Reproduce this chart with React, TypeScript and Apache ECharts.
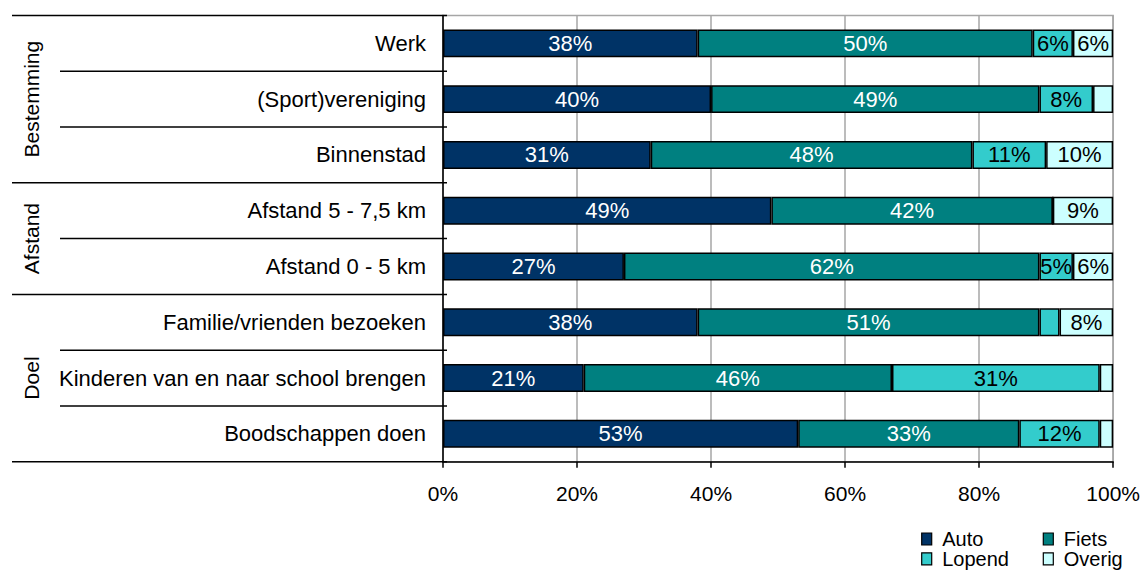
import React, { useEffect, useRef } from "react";
import * as echarts from "echarts";

const categories = [
  "Werk",
  "(Sport)vereniging",
  "Binnenstad",
  "Afstand 5 - 7,5 km",
  "Afstand 0 - 5 km",
  "Familie/vrienden bezoeken",
  "Kinderen van en naar school brengen",
  "Boodschappen doen",
];
const groupNames = ["Bestemming", "Afstand", "Doel"];
const groupSizes = [3, 2, 3];

const auto = [38, 40, 31, 49, 27, 38, 21, 53];
const fiets = [50, 49, 48, 42, 62, 51, 46, 33];
const lopend = [6, 8, 11, 0, 5, 3, 31, 12];
const overig = [6, 3, 10, 9, 6, 8, 2, 2];

const seriesNames = ["Auto", "Fiets", "Lopend", "Overig"];
const seriesData = [auto, fiets, lopend, overig];
const seriesColors = ["#003366", "#008080", "#33CCCC", "#CCFFFF"];
const labelColors = ["#ffffff", "#ffffff", "#000000", "#000000"];

const W = 1143;
const H = 570;
const GRID_LEFT = 443;
const GRID_RIGHT_X = 1115;
const GRID_TOP = 15.5;
const GRID_BOTTOM_Y = 461.7;
const FONT = "'Liberation Sans', Arial, sans-serif";

export default function App() {
  const ref = useRef<HTMLDivElement>(null);

  useEffect(() => {
    if (!ref.current) return;
    const chart = echarts.init(ref.current, undefined, { renderer: "svg" });

    // decorations derived from the category layout
    const band = (GRID_BOTTOM_Y - GRID_TOP) / categories.length;
    const graphics: any[] = [];
    const groupStarts: number[] = [0];
    let idx = 0;
    groupSizes.forEach((s) => {
      idx += s;
      groupStarts.push(idx);
    });
    for (let i = 0; i <= categories.length; i++) {
      const y = GRID_TOP + i * band;
      const isGroup = groupStarts.includes(i);
      graphics.push({
        type: "line",
        shape: { x1: isGroup ? 12 : 60, y1: y, x2: GRID_LEFT + 4, y2: y },
        style: { stroke: "#000", lineWidth: 1.5 },
        z: 10,
      });
    }
    groupNames.forEach((g, gi) => {
      const yc = GRID_TOP + ((groupStarts[gi] + groupStarts[gi + 1]) / 2) * band;
      graphics.push({
        type: "text",
        x: 31,
        y: yc,
        rotation: Math.PI / 2,
        style: {
          text: g,
          font: `21px ${FONT}`,
          fill: "#000",
          align: "center",
          verticalAlign: "middle",
        },
        z: 10,
      });
    });
    // legend (2 x 2)
    const legendPos = [
      { x: 921.7, y: 539 },
      { x: 1043.3, y: 539 },
      { x: 921.7, y: 558.8 },
      { x: 1043.3, y: 558.8 },
    ];
    seriesNames.forEach((n, i) => {
      const p = legendPos[i];
      graphics.push({
        type: "rect",
        shape: { x: p.x, y: p.y - 6, width: 10, height: 12 },
        style: { fill: seriesColors[i], stroke: "#000", lineWidth: 1.2 },
        z: 10,
      });
      graphics.push({
        type: "text",
        x: p.x + 20.5,
        y: p.y,
        style: {
          text: n,
          font: `20px ${FONT}`,
          lineHeight: 19,
          fill: "#000",
          align: "left",
          verticalAlign: "middle",
        },
        z: 10,
      });
    });

    chart.setOption({
      animation: false,
      grid: {
        left: GRID_LEFT,
        right: W - GRID_RIGHT_X,
        top: GRID_TOP,
        bottom: H - GRID_BOTTOM_Y,
        show: true,
        borderColor: "#a6a6a6",
        borderWidth: 1.5,
        backgroundColor: "transparent",
      },
      xAxis: {
        type: "value",
        min: 0,
        max: 100,
        interval: 20,
        axisLine: { show: true, lineStyle: { color: "#000", width: 1.5 } },
        axisTick: { show: true, length: 6, lineStyle: { color: "#000", width: 1.5 } },
        splitLine: { show: true, lineStyle: { color: "#a6a6a6", width: 1.5 } },
        axisLabel: {
          formatter: "{value}%",
          fontFamily: FONT,
          fontSize: 21,
          color: "#000",
          margin: 21,
        },
      },
      yAxis: {
        type: "category",
        inverse: true,
        data: categories,
        axisLine: { show: true, lineStyle: { color: "#000", width: 1.5 } },
        axisTick: { show: false },
        axisLabel: {
          fontFamily: FONT,
          fontSize: 22,
          color: "#000",
          margin: 17,
        },
      },
      series: seriesNames.map((n, i) => ({
        name: n,
        type: "bar",
        stack: "total",
        barWidth: "50%",
        data: seriesData[i],
        itemStyle: { color: seriesColors[i], borderColor: "#000", borderWidth: 1.5 },
        label: {
          show: true,
          position: "inside",
          formatter: (p: any) => (p.value >= 5 ? `${p.value}%` : ""),
          color: labelColors[i],
          fontFamily: FONT,
          fontSize: 22,
        },
      })),
      graphic: graphics,
    });

    return () => chart.dispose();
  }, []);

  return (
    <div
      ref={ref}
      style={{ position: "fixed", left: 0, top: 0, width: W, height: H, background: "#fff" }}
    />
  );
}
